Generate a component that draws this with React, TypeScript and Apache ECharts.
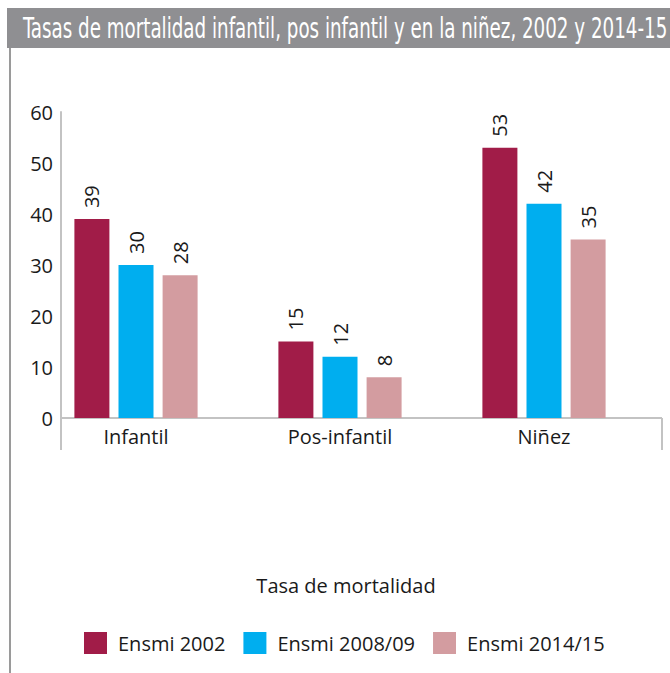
import React, { useEffect, useRef } from "react";
import * as echarts from "echarts";

const titleText = "Tasas de mortalidad infantil, pos infantil y en la niñez, 2002 y 2014-15";
const categories = ["Infantil", "Pos-infantil", "Niñez"];
const seriesNames = ["Ensmi 2002", "Ensmi 2008/09", "Ensmi 2014/15"];
const ensmi2002 = [39, 15, 53];
const ensmi2008 = [30, 12, 42];
const ensmi2014 = [28, 8, 35];
const seriesColors = ["#a11c48", "#00aeef", "#d39ca0"];
const axisName = "Tasa de mortalidad";

const FONT = '"Open Sans", sans-serif';

export default function App() {
  const ref = useRef<HTMLDivElement>(null);
  useEffect(() => {
    if (!ref.current) return;
    const chart = echarts.init(ref.current, undefined, { renderer: "svg" });
    const titleFont = '"Liberation Sans Narrow", "DejaVu Sans Condensed", sans-serif';
    const titleSize = 29;
    let scaleX = 0.75;
    try {
      const ctx = document.createElement("canvas").getContext("2d");
      if (ctx) {
        ctx.font = `${titleSize}px ${titleFont}`;
        const w = ctx.measureText(titleText).width;
        if (w > 0) scaleX = 645 / w;
      }
    } catch (e) {}
    const data = [ensmi2002, ensmi2008, ensmi2014];
    const axisGray = "#c3c3c3";
    chart.setOption({
      animation: false,
      backgroundColor: "#ffffff",
      grid: { left: 34, right: 24, top: 112, bottom: 255, containLabel: false },
      xAxis: {
        type: "category",
        data: categories,
        axisLine: { show: false },
        axisTick: { show: false },
        axisLabel: { fontFamily: FONT, fontSize: 20, color: "#1a1a1a", margin: 8 },
      },
      yAxis: {
        type: "value",
        min: 0,
        max: 60,
        interval: 10,
        offset: -27,
        axisLine: { show: true, lineStyle: { color: axisGray, width: 2 } },
        axisTick: { show: false },
        splitLine: { show: false },
        axisLabel: { fontFamily: FONT, fontSize: 20, color: "#1a1a1a", margin: 8 },
      },
      legend: {
        left: 84,
        top: 632,
        padding: 0,
        itemWidth: 23,
        itemHeight: 22,
        itemGap: 18,
        icon: "rect",
        data: seriesNames,
        textStyle: { fontFamily: FONT, fontSize: 20, color: "#1a1a1a", padding: [0, 0, 0, 6] },
      },
      series: seriesNames.map((name, i) => ({
        name,
        type: "bar",
        data: data[i],
        barWidth: 35,
        barGap: "26%",
        itemStyle: { color: seriesColors[i] },
        label: {
          show: true,
          position: "top",
          rotate: 90,
          distance: 11,
          align: "left",
          verticalAlign: "middle",
          fontFamily: FONT,
          fontSize: 20,
          color: "#1a1a1a",
        },
      })),
      graphic: [
        { type: "rect", shape: { x: 7, y: 8, width: 663, height: 40 }, style: { fill: "#8f8f92" } },
        {
          type: "text",
          x: 23,
          y: 28,
          scaleX,
          style: { text: titleText, fontFamily: titleFont, fontSize: titleSize, fill: "#ffffff", verticalAlign: "middle" },
        },
        { type: "line", shape: { x1: 10, y1: 48, x2: 10, y2: 673 }, style: { stroke: "#9a9a9a", lineWidth: 2 } },
        { type: "line", shape: { x1: 61, y1: 418, x2: 662, y2: 418 }, style: { stroke: axisGray, lineWidth: 2 } },
        { type: "line", shape: { x1: 61, y1: 418, x2: 61, y2: 450 }, style: { stroke: axisGray, lineWidth: 2 } },
        { type: "line", shape: { x1: 662, y1: 418, x2: 662, y2: 450 }, style: { stroke: axisGray, lineWidth: 2 } },
        {
          type: "text",
          x: 346,
          y: 585,
          style: { text: axisName, fontFamily: FONT, fontSize: 20, fill: "#1a1a1a", align: "center", verticalAlign: "middle" },
        },
      ],
    });
    return () => chart.dispose();
  }, []);
  return (
    <div
      ref={ref}
      style={{ position: "fixed", left: 0, top: 0, width: 670, height: 673, background: "#fff" }}
    />
  );
}
